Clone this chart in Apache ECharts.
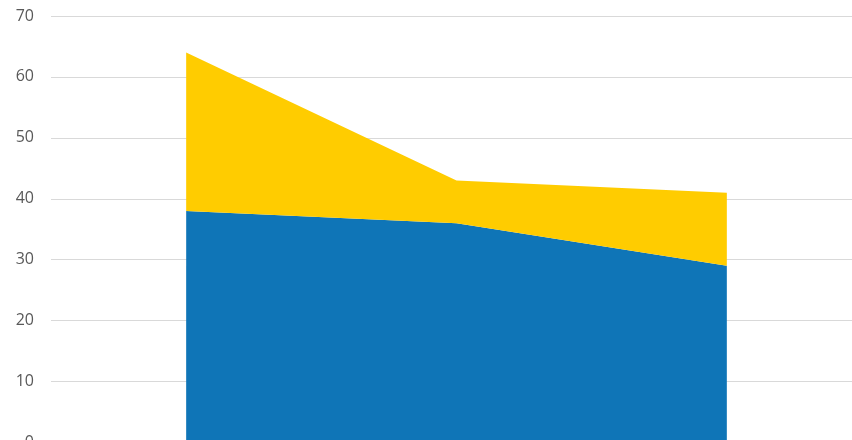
<!DOCTYPE html>
<html><head><meta charset="utf-8">
<script src="https://cdn.jsdelivr.net/npm/echarts@6/dist/echarts.min.js"></script>
<style>html,body{margin:0;padding:0;background:#fff}#c{width:852px;height:440px}</style>
</head><body><div id="c"></div>
<script>
const categories = ['1', '2', '3'];
const seriesBlue = [38, 36, 29];
const seriesYellow = [26, 7, 12];
const yTicks = [0, 10, 20, 30, 40, 50, 60, 70];

const chart = echarts.init(document.getElementById('c'), null, {renderer: 'canvas'});
chart.setOption({
  animation: false,
  grid: {left: 51, right: -10, top: 16, height: 426.5, outerBoundsMode: 'none', containLabel: false},
  xAxis: {
    type: 'category', data: categories, boundaryGap: true,
    axisLine: {show: false}, axisTick: {show: false}, axisLabel: {show: false}
  },
  yAxis: {
    type: 'value', min: yTicks[0], max: yTicks[yTicks.length - 1], interval: 10,
    axisLine: {show: false}, axisTick: {show: false},
    axisLabel: {color: '#595959', fontSize: 16, fontFamily: 'Open Sans, Calibri, sans-serif', margin: 17},
    splitLine: {lineStyle: {color: '#d9d9d9', width: 1}}
  },
  series: [
    {name: 'A', type: 'line', stack: 's', data: seriesBlue, symbol: 'none',
     lineStyle: {width: 0}, areaStyle: {color: '#0f75b7', opacity: 1}, itemStyle: {color: '#0f75b7'}},
    {name: 'B', type: 'line', stack: 's', data: seriesYellow, symbol: 'none',
     lineStyle: {width: 0}, areaStyle: {color: '#ffcc00', opacity: 1}, itemStyle: {color: '#ffcc00'}}
  ]
});
</script></body></html>
